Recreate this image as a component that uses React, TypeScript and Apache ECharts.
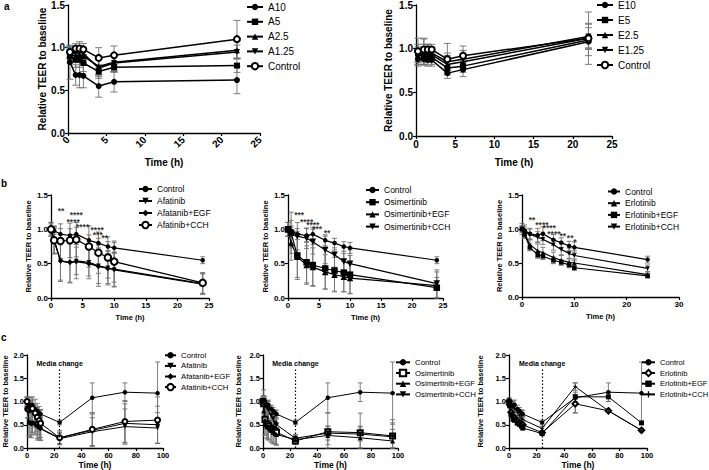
import React, { useEffect, useRef } from 'react';
import * as echarts from 'echarts';

const FONT = '"Liberation Sans", Arial, sans-serif';

// ---------- Panel a (left): afatinib doses ----------
const timeA = [0.25, 1, 1.5, 2, 4, 6, 22];
const a10 = [0.83, 0.68, 0.68, 0.67, 0.55, 0.6, 0.62];
const a10Err = [0.2, 0.12, 0.15, 0.14, 0.13, 0.12, 0.16];
const a5 = [0.9, 0.86, 0.86, 0.82, 0.72, 0.77, 0.79];
const a5Err = [0.08, 0.09, 0.09, 0.1, 0.08, 0.06, 0.08];
const a25 = [0.93, 0.9, 0.92, 0.9, 0.78, 0.83, 0.97];
const a25Err = [0.07, 0.07, 0.08, 0.08, 0.1, 0.1, 0.1];
const a125 = [0.95, 0.93, 0.95, 0.93, 0.76, 0.82, 0.95];
const a125Err = [0.06, 0.07, 0.07, 0.07, 0.1, 0.1, 0.08];
const aCtrl = [0.95, 0.99, 0.99, 0.98, 0.88, 0.91, 1.1];
const aCtrlErr = [0.07, 0.06, 0.08, 0.07, 0.12, 0.11, 0.22];

// ---------- Panel a (right): erlotinib doses ----------
const e10 = [0.88, 0.88, 0.87, 0.87, 0.72, 0.76, 1.08];
const e10Err = [0.08, 0.07, 0.07, 0.07, 0.06, 0.08, 0.07];
const e5 = [0.95, 0.9, 0.92, 0.9, 0.78, 0.8, 1.1];
const e5Err = [0.1, 0.08, 0.08, 0.08, 0.07, 0.07, 0.18];
const e25 = [0.93, 0.95, 0.95, 0.93, 0.82, 0.85, 1.12];
const e25Err = [0.09, 0.1, 0.08, 0.07, 0.1, 0.09, 0.12];
const e125 = [0.9, 0.97, 0.97, 0.95, 0.85, 0.88, 1.14];
const e125Err = [0.08, 0.15, 0.08, 0.07, 0.1, 0.1, 0.15];
const eCtrl = [0.97, 0.99, 0.99, 0.99, 0.88, 0.92, 1.12];
const eCtrlErr = [0.15, 0.12, 0.06, 0.06, 0.18, 0.11, 0.3];

// ---------- Panel b ----------
const timeB = [0, 0.5, 1.5, 3, 4, 6, 7.5, 9, 10, 24];
const ctrlB = [1.0, 0.98, 0.93, 0.91, 0.93, 0.84, 0.8, 0.75, 0.73, 0.55];
const ctrlBErr = [0.02, 0.05, 0.08, 0.1, 0.1, 0.08, 0.07, 0.07, 0.08, 0.05];
const afaB = [1.0, 0.85, 0.54, 0.51, 0.54, 0.52, 0.47, 0.44, 0.41, 0.2];
const afaBErr = [0.1, 0.2, 0.28, 0.28, 0.2, 0.2, 0.3, 0.25, 0.25, 0.15];
const afaEgfB = [1.0, 0.83, 0.54, 0.52, 0.53, 0.5, 0.46, 0.43, 0.42, 0.21];
const afaEgfBErr = [0.08, 0.18, 0.3, 0.3, 0.25, 0.22, 0.25, 0.22, 0.25, 0.15];
const afaCchB = [1.0, 0.84, 0.83, 0.84, 0.85, 0.75, 0.66, 0.59, 0.53, 0.22];
const afaCchBErr = [0.1, 0.2, 0.25, 0.25, 0.25, 0.3, 0.3, 0.3, 0.3, 0.15];
const osiB = [1.0, 0.95, 0.62, 0.52, 0.48, 0.43, 0.4, 0.37, 0.34, 0.15];
const osiBErr = [0.1, 0.3, 0.35, 0.3, 0.3, 0.3, 0.3, 0.28, 0.28, 0.15];
const osiEgfB = [1.0, 0.8, 0.6, 0.48, 0.45, 0.38, 0.34, 0.31, 0.29, 0.18];
const osiEgfBErr = [0.1, 0.25, 0.3, 0.28, 0.28, 0.25, 0.25, 0.22, 0.22, 0.2];
const osiCchB = [1.0, 0.93, 0.9, 0.87, 0.82, 0.7, 0.63, 0.53, 0.5, 0.21];
const osiCchBErr = [0.1, 0.2, 0.2, 0.15, 0.18, 0.2, 0.18, 0.2, 0.2, 0.2];
const erlB = [1.0, 0.93, 0.77, 0.68, 0.65, 0.58, 0.54, 0.51, 0.5, 0.33];
const erlBErr = [0.05, 0.06, 0.08, 0.1, 0.08, 0.08, 0.07, 0.06, 0.06, 0.04];
const erlEgfB = [1.0, 0.92, 0.73, 0.62, 0.6, 0.54, 0.51, 0.47, 0.43, 0.31];
const erlEgfBErr = [0.04, 0.05, 0.05, 0.05, 0.05, 0.05, 0.04, 0.04, 0.04, 0.03];
const erlCchB = [1.0, 0.96, 0.92, 0.88, 0.85, 0.77, 0.7, 0.64, 0.61, 0.42];
const erlCchBErr = [0.08, 0.1, 0.08, 0.08, 0.08, 0.08, 0.08, 0.08, 0.07, 0.05];

// significance stars (x, y, text) for panel b
const sigAfaX = [1.6, 4.0, 3.5, 5.0, 7.3, 7.4, 8.5];
const sigAfaY = [1.31, 1.25, 1.15, 1.07, 1.03, 0.96, 0.91];
const sigAfaT = ['**', '****', '****', '****', '****', '***', '**'];
const sigOsiX = [1.8, 3.0, 4.0, 4.7, 6.3];
const sigOsiY = [1.24, 1.15, 1.1, 1.04, 0.99];
const sigOsiT = ['***', '****', '****', '***', '**'];
const sigErlX = [1.9, 3.8, 5.2, 6.1, 7.8, 9.2, 10.1];
const sigErlY = [1.17, 1.1, 1.05, 0.97, 0.93, 0.9, 0.85];
const sigErlT = ['**', '****', '****', '****', '**', '**', '*'];

// ---------- Panel c ----------
const timeC = [0, 0.5, 1.5, 3, 4, 6, 7.5, 9, 10, 24, 48, 72, 96];
const ctrlC = [1.0, 0.98, 0.93, 0.91, 0.93, 0.84, 0.8, 0.75, 0.73, 0.55, 1.08, 1.2, 1.18];
const ctrlCErr = [0.02, 0.05, 0.08, 0.1, 0.1, 0.08, 0.07, 0.07, 0.08, 0.05, 0.32, 0.2, 0.67];
const afaC = [1.0, 0.85, 0.54, 0.51, 0.54, 0.52, 0.47, 0.44, 0.41, 0.2, 0.35, 0.46, 0.43];
const afaCErr = [0.1, 0.2, 0.28, 0.28, 0.2, 0.2, 0.3, 0.25, 0.25, 0.12, 0.3, 0.38, 0.33];
const afaEgfC = [1.0, 0.83, 0.54, 0.52, 0.53, 0.5, 0.46, 0.43, 0.42, 0.22, 0.38, 0.53, 0.5];
const afaEgfCErr = [0.08, 0.18, 0.3, 0.3, 0.25, 0.22, 0.25, 0.22, 0.25, 0.12, 0.35, 0.42, 0.4];
const afaCchC = [1.0, 0.84, 0.83, 0.84, 0.85, 0.75, 0.66, 0.59, 0.53, 0.22, 0.4, 0.57, 0.6];
const afaCchCErr = [0.1, 0.2, 0.25, 0.25, 0.25, 0.3, 0.3, 0.3, 0.3, 0.15, 0.35, 0.45, 0.5];
const osiC = [1.0, 0.95, 0.62, 0.52, 0.48, 0.43, 0.4, 0.37, 0.34, 0.15, 0.35, 0.33, 0.26];
const osiCErr = [0.1, 0.3, 0.35, 0.3, 0.3, 0.3, 0.3, 0.28, 0.28, 0.08, 0.4, 0.42, 0.35];
const osiEgfC = [1.0, 0.8, 0.6, 0.48, 0.45, 0.38, 0.34, 0.31, 0.29, 0.18, 0.27, 0.22, 0.15];
const osiEgfCErr = [0.1, 0.25, 0.3, 0.28, 0.28, 0.25, 0.25, 0.22, 0.22, 0.08, 0.2, 0.25, 0.25];
const osiCchC = [1.0, 0.93, 0.9, 0.87, 0.82, 0.7, 0.63, 0.53, 0.5, 0.21, 0.32, 0.3, 0.24];
const osiCchCErr = [0.1, 0.2, 0.2, 0.15, 0.18, 0.2, 0.18, 0.2, 0.2, 0.08, 0.15, 0.15, 0.3];
const erlC = [1.0, 0.93, 0.77, 0.68, 0.65, 0.58, 0.54, 0.51, 0.5, 0.33, 0.95, 0.8, 0.38];
const erlCErr = [0.05, 0.06, 0.08, 0.1, 0.08, 0.08, 0.07, 0.06, 0.06, 0.04, 0.2, 0.03, 0.03];
const erlEgfC = [1.0, 0.92, 0.73, 0.62, 0.6, 0.54, 0.51, 0.47, 0.43, 0.31, 1.1, 1.1, 0.54];
const erlEgfCErr = [0.04, 0.05, 0.05, 0.05, 0.05, 0.05, 0.04, 0.04, 0.04, 0.03, 0.1, 0.1, 0.03];
const erlCchC = [1.0, 0.96, 0.92, 0.88, 0.85, 0.77, 0.7, 0.64, 0.61, 0.42, 1.32, 0.8, 0.38];
const erlCchCErr = [0.08, 0.1, 0.08, 0.08, 0.08, 0.08, 0.08, 0.08, 0.07, 0.05, 0.08, 0.03, 0.03];

const mediaChangeX = 24;
const mediaLineTop = 1.7;

// ---------- styling / layout ----------
const PLUS = 'path://M4,0h2v4h4v2h-4v4h-2v-4h-4v-2h4z';

interface SDef { label: string; y: number[]; err: number[]; symbol: string; size: number; rotate?: number }
interface PDef {
  id: string;
  grid: { left: number; top: number; width: number; height: number };
  x: number[];
  xMax: number; xInt: number; yMax: number; yInt: number;
  tickFont: number; yNameFont: number; xNameFont: number; yGap: number; xGap: number;
  rotateX?: number; lineWidth: number; cap: number;
  legend: { left: number; top: number; itemWidth: number; itemGap: number; fontSize: number; lh: number };
  series: SDef[];
  sig?: { x: number[]; y: number[]; t: string[] };
  media?: boolean;
}

const panels: PDef[] = [
  {
    id: 'a1', grid: { left: 68, top: 5, width: 192, height: 128 }, x: timeA,
    xMax: 25, xInt: 5, yMax: 1.5, yInt: 0.5, tickFont: 10, yNameFont: 10, xNameFont: 10, yGap: 20, xGap: 24,
    rotateX: 45, lineWidth: 1.5, cap: 3.5,
    legend: { left: 246, top: 2, itemWidth: 16, itemGap: 4.8, fontSize: 10, lh: 10 },
    series: [
      { label: 'A10', y: a10, err: a10Err, symbol: 'circle', size: 6 },
      { label: 'A5', y: a5, err: a5Err, symbol: 'rect', size: 6 },
      { label: 'A2.5', y: a25, err: a25Err, symbol: 'triangle', size: 6 },
      { label: 'A1.25', y: a125, err: a125Err, symbol: 'triangle', size: 6, rotate: 180 },
      { label: 'Control', y: aCtrl, err: aCtrlErr, symbol: 'emptyCircle', size: 6 },
    ],
  },
  {
    id: 'a2', grid: { left: 416, top: 5, width: 196, height: 131 }, x: timeA,
    xMax: 25, xInt: 5, yMax: 1.5, yInt: 0.5, tickFont: 10, yNameFont: 10, xNameFont: 10, yGap: 23, xGap: 21,
    lineWidth: 1.5, cap: 3.5,
    legend: { left: 596, top: 0, itemWidth: 16, itemGap: 5, fontSize: 10, lh: 10 },
    series: [
      { label: 'E10', y: e10, err: e10Err, symbol: 'circle', size: 6 },
      { label: 'E5', y: e5, err: e5Err, symbol: 'rect', size: 6 },
      { label: 'E2.5', y: e25, err: e25Err, symbol: 'triangle', size: 6 },
      { label: 'E1.25', y: e125, err: e125Err, symbol: 'triangle', size: 6, rotate: 180 },
      { label: 'Control', y: eCtrl, err: eCtrlErr, symbol: 'emptyCircle', size: 6 },
    ],
  },
  {
    id: 'b1', grid: { left: 51, top: 195, width: 158, height: 103 }, x: timeB,
    xMax: 25, xInt: 5, yMax: 1.5, yInt: 0.5, tickFont: 8, yNameFont: 7.5, xNameFont: 7.5, yGap: 18, xGap: 15,
    lineWidth: 1.2, cap: 2.5,
    legend: { left: 138, top: 184.5, itemWidth: 13, itemGap: 3, fontSize: 8.5, lh: 9 },
    series: [
      { label: 'Control', y: ctrlB, err: ctrlBErr, symbol: 'circle', size: 4.5 },
      { label: 'Afatinib', y: afaB, err: afaBErr, symbol: 'triangle', size: 4.5, rotate: 180 },
      { label: 'Afatanib+EGF', y: afaEgfB, err: afaEgfBErr, symbol: 'diamond', size: 5.5 },
      { label: 'Afatinib+CCH', y: afaCchB, err: afaCchBErr, symbol: 'emptyCircle', size: 6.5 },
    ],
    sig: { x: sigAfaX, y: sigAfaY, t: sigAfaT },
  },
  {
    id: 'b2', grid: { left: 288, top: 195, width: 155, height: 103 }, x: timeB,
    xMax: 25, xInt: 5, yMax: 1.5, yInt: 0.5, tickFont: 8, yNameFont: 7.5, xNameFont: 7.5, yGap: 17, xGap: 15,
    lineWidth: 1.2, cap: 2.5,
    legend: { left: 365, top: 185.5, itemWidth: 13, itemGap: 3.2, fontSize: 8.5, lh: 9 },
    series: [
      { label: 'Control', y: ctrlB, err: ctrlBErr, symbol: 'circle', size: 4.5 },
      { label: 'Osimertinib', y: osiB, err: osiBErr, symbol: 'rect', size: 6.5 },
      { label: 'Osimertinib+EGF', y: osiEgfB, err: osiEgfBErr, symbol: 'triangle', size: 6.5 },
      { label: 'Osimertinib+CCH', y: osiCchB, err: osiCchBErr, symbol: 'triangle', size: 6.5, rotate: 180 },
    ],
    sig: { x: sigOsiX, y: sigOsiY, t: sigOsiT },
  },
  {
    id: 'b3', grid: { left: 522, top: 195, width: 157, height: 102 }, x: timeB,
    xMax: 30, xInt: 10, yMax: 1.5, yInt: 0.5, tickFont: 8, yNameFont: 7.5, xNameFont: 7.5, yGap: 16, xGap: 15,
    lineWidth: 1.2, cap: 2.5,
    legend: { left: 607, top: 187, itemWidth: 12, itemGap: 2.7, fontSize: 8.5, lh: 9 },
    series: [
      { label: 'Control', y: ctrlB, err: ctrlBErr, symbol: 'circle', size: 4.5 },
      { label: 'Erlotinib', y: erlB, err: erlBErr, symbol: 'triangle', size: 4.5 },
      { label: 'Erlotinib+EGF', y: erlEgfB, err: erlEgfBErr, symbol: 'rect', size: 4.5 },
      { label: 'Erlotinib+CCH', y: erlCchB, err: erlCchBErr, symbol: 'triangle', size: 4.5, rotate: 180 },
    ],
    sig: { x: sigErlX, y: sigErlY, t: sigErlT },
  },
  {
    id: 'c1', grid: { left: 26, top: 355, width: 137, height: 93 }, x: timeC,
    xMax: 100, xInt: 20, yMax: 2, yInt: 0.5, tickFont: 7.5, yNameFont: 7.5, xNameFont: 8.5, yGap: 18, xGap: 12,
    lineWidth: 1, cap: 2.5, media: true,
    legend: { left: 164, top: 350.8, itemWidth: 11, itemGap: 1.6, fontSize: 7.8, lh: 9 },
    series: [
      { label: 'Control', y: ctrlC, err: ctrlCErr, symbol: 'circle', size: 4.5 },
      { label: 'Afatinib', y: afaC, err: afaCErr, symbol: 'triangle', size: 4.5, rotate: 180 },
      { label: 'Afatanib+EGF', y: afaEgfC, err: afaEgfCErr, symbol: 'diamond', size: 5 },
      { label: 'Afatinib+CCH', y: afaCchC, err: afaCchCErr, symbol: 'emptyCircle', size: 5 },
    ],
  },
  {
    id: 'c2', grid: { left: 263, top: 355, width: 135, height: 93 }, x: timeC,
    xMax: 100, xInt: 20, yMax: 2, yInt: 0.5, tickFont: 7.5, yNameFont: 7.5, xNameFont: 8.5, yGap: 21, xGap: 12,
    lineWidth: 1, cap: 2.5, media: true,
    legend: { left: 395, top: 357.8, itemWidth: 14, itemGap: 1.7, fontSize: 7.8, lh: 9 },
    series: [
      { label: 'Control', y: ctrlC, err: ctrlCErr, symbol: 'circle', size: 4.5 },
      { label: 'Osimertinib', y: osiC, err: osiCErr, symbol: 'emptyRect', size: 5 },
      { label: 'Osimertinib+EGF', y: osiEgfC, err: osiEgfCErr, symbol: 'triangle', size: 5 },
      { label: 'Osimertinib+CCH', y: osiCchC, err: osiCchCErr, symbol: 'triangle', size: 5, rotate: 180 },
    ],
  },
  {
    id: 'c3', grid: { left: 509, top: 355, width: 138, height: 93 }, x: timeC,
    xMax: 100, xInt: 20, yMax: 2, yInt: 0.5, tickFont: 7.5, yNameFont: 7.5, xNameFont: 8.5, yGap: 25, xGap: 12,
    lineWidth: 1, cap: 2.5, media: true,
    legend: { left: 641, top: 357.8, itemWidth: 13, itemGap: 1.7, fontSize: 7.6, lh: 9 },
    series: [
      { label: 'Control', y: ctrlC, err: ctrlCErr, symbol: 'circle', size: 4.5 },
      { label: 'Erlotinib', y: erlC, err: erlCErr, symbol: 'emptyDiamond', size: 5.5 },
      { label: 'Erlotinib+EGF', y: erlEgfC, err: erlEgfCErr, symbol: 'rect', size: 5 },
      { label: 'Erlotinib+CCH', y: erlCchC, err: erlCchCErr, symbol: PLUS, size: 4 },
    ],
  },
];

function buildOption() {
  const grid: any[] = [];
  const xAxis: any[] = [];
  const yAxis: any[] = [];
  const legend: any[] = [];
  const series: any[] = [];

  panels.forEach((p, i) => {
    grid.push({ ...p.grid, containLabel: false });
    const axisLine = { show: true, onZero: false, lineStyle: { color: '#000', width: 1.3 } };
    const axisTick = { show: true, length: 3, lineStyle: { color: '#000', width: 1.2 } };
    xAxis.push({
      gridIndex: i, type: 'value', min: 0, max: p.xMax, interval: p.xInt,
      axisLine, axisTick, splitLine: { show: false },
      axisLabel: {
        fontSize: p.tickFont, fontWeight: 'bold', color: '#000', fontFamily: FONT,
        margin: p.rotateX ? 5 : 3, rotate: p.rotateX || 0,
      },
      name: 'Time (h)', nameLocation: 'middle', nameGap: p.xGap,
      nameTextStyle: { fontSize: p.xNameFont, fontWeight: 'bold', color: '#000', fontFamily: FONT },
    });
    yAxis.push({
      gridIndex: i, type: 'value', min: 0, max: p.yMax, interval: p.yInt,
      axisLine, axisTick, splitLine: { show: false },
      axisLabel: {
        fontSize: p.tickFont, fontWeight: 'bold', color: '#000', fontFamily: FONT, margin: 3,
        formatter: (v: number) => v.toFixed(1),
      },
      name: 'Relative TEER to baseline', nameLocation: 'middle', nameGap: p.yGap, nameRotate: 90,
      nameTextStyle: { fontSize: p.yNameFont, fontWeight: 'bold', color: '#000', fontFamily: FONT },
    });

    const names: string[] = [];
    p.series.forEach((s, si) => {
      const name = `${p.id}|${s.label}`;
      names.push(name);
      // error bars
      series.push({
        type: 'custom', xAxisIndex: i, yAxisIndex: i, silent: true, z: 1,
        encode: { x: 0, y: [1, 2] },
        data: p.x.map((xv, k) => [xv, Math.max(0, s.y[k] - s.err[k]), s.y[k] + s.err[k]]),
        renderItem: (params: any, api: any) => {
          const xv = api.value(0);
          const top = api.coord([xv, api.value(2)]);
          const bot = api.coord([xv, api.value(1)]);
          const w = p.cap;
          const st = { stroke: '#707070', lineWidth: 0.9, fill: null };
          return {
            type: 'group',
            children: [
              { type: 'line', shape: { x1: top[0], y1: top[1], x2: bot[0], y2: bot[1] }, style: st },
              { type: 'line', shape: { x1: top[0] - w, y1: top[1], x2: top[0] + w, y2: top[1] }, style: st },
              { type: 'line', shape: { x1: bot[0] - w, y1: bot[1], x2: bot[0] + w, y2: bot[1] }, style: st },
            ],
          };
        },
      });
      const isEmpty = s.symbol.startsWith('empty');
      const line: any = {
        type: 'line', name, xAxisIndex: i, yAxisIndex: i, z: 3,
        data: p.x.map((xv, k) => [xv, s.y[k]]),
        symbol: s.symbol, symbolSize: s.size, symbolRotate: s.rotate || 0, showAllSymbol: true,
        lineStyle: { color: '#000', width: p.lineWidth },
        itemStyle: { color: '#000', borderColor: '#000', borderWidth: isEmpty ? 1.5 : 0 },
        emphasis: { disabled: true },
      };
      if (p.media && si === 0) {
        line.markLine = {
          silent: true, symbol: 'none',
          lineStyle: { type: [1.5, 2], color: '#000', width: 1.2 },
          label: {
            show: true, position: 'end', formatter: 'Media change', distance: 2,
            fontSize: 7, fontWeight: 'bold', color: '#000', fontFamily: FONT,
          },
          data: [[{ coord: [mediaChangeX, 0] }, { coord: [mediaChangeX, mediaLineTop] }]],
        };
      }
      series.push(line);
    });

    if (p.sig) {
      const sg = p.sig;
      series.push({
        type: 'scatter', xAxisIndex: i, yAxisIndex: i, silent: true, z: 4,
        symbolSize: 0.1, itemStyle: { color: 'rgba(0,0,0,0)' },
        data: sg.x.map((xv, k) => ({ name: sg.t[k], value: [xv, sg.y[k]] })),
        label: {
          show: true, position: 'inside', formatter: '{b}', offset: [0, 2.5],
          fontSize: 8.5, lineHeight: 4, fontWeight: 'bold', color: '#000', fontFamily: FONT,
        },
      });
    }

    legend.push({
      orient: 'vertical', left: p.legend.left, top: p.legend.top, padding: 0,
      itemWidth: p.legend.itemWidth, itemHeight: 8, itemGap: p.legend.itemGap,
      selectedMode: false, data: names,
      formatter: (n: string) => n.split('|')[1],
      textStyle: { fontSize: p.legend.fontSize, lineHeight: p.legend.lh, color: '#000', fontFamily: FONT },
    });
  });

  const letter = (t: string, x: number, y: number) => ({
    type: 'text', left: x, top: y,
    style: { text: t, fontSize: 10, fontWeight: 'bold', fill: '#000', fontFamily: FONT },
  });

  return {
    animation: false,
    backgroundColor: '#fff',
    grid, xAxis, yAxis, legend, series,
    graphic: [letter('a', 4, 1), letter('b', 1, 178), letter('c', 1, 332)],
  };
}

export default function App() {
  const ref = useRef<HTMLDivElement>(null);
  useEffect(() => {
    if (!ref.current) return;
    const chart = echarts.init(ref.current, undefined, { renderer: 'svg' });
    chart.setOption(buildOption() as any);
    return () => chart.dispose();
  }, []);
  return (
    <div
      ref={ref}
      style={{ position: 'absolute', left: 0, top: 0, width: 709, height: 470, background: '#fff' }}
    />
  );
}
